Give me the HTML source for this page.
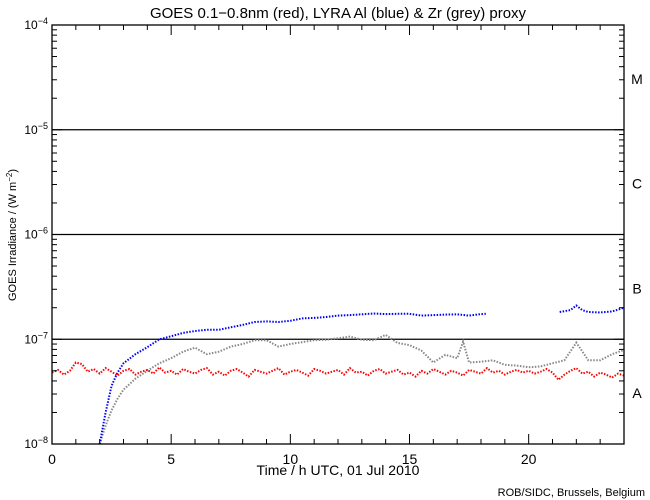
<!DOCTYPE html>
<html><head><meta charset="utf-8"><style>
body{margin:0;background:#fff;}
svg{display:block;font-family:"Liberation Sans",sans-serif;}
</style></head><body>
<svg id="chart" width="650" height="500" viewBox="0 0 650 500">
<rect width="650" height="500" fill="#fff"/>
<text x="338" y="18" font-size="15" text-anchor="middle">GOES 0.1−0.8nm (red), LYRA Al (blue) &amp; Zr (grey) proxy</text>
<text x="338" y="475" font-size="14" text-anchor="middle">Time / h UTC, 01 Jul 2010</text>
<text transform="translate(16,235) rotate(-90)" font-size="11" text-anchor="middle">GOES Irradiance / (W m<tspan font-size="8" dy="-4">−2</tspan><tspan dy="4">)</tspan></text>
<text x="645" y="496" font-size="11" text-anchor="end">ROB/SIDC, Brussels, Belgium</text>
<g id="grid"></g><g id="series"></g><g id="axes"></g>
</svg>
<script>
const xTicks=[0,5,10,15,20];
const yDecades=[-8,-7,-6,-5,-4];
const classLabels=["A","B","C","M"];
const blueTimes=[2,2.25,2.5,2.75,3,3.5,4,4.5,5,5.5,6,6.5,7,7.5,8,8.5,9,9.5,10,10.5,11,11.5,12,12.5,13,13.5,14,14.5,15,15.5,16,16.5,17,17.5,18,18.2,null,21.3,21.75,22,22.25,22.5,23,23.5,24];
const blueValues=[1.0,2.0,3.6,4.8,5.9,7.2,8.4,10,10.7,11.5,12,12.3,12.3,13,13.7,14.6,14.8,14.6,15,15.8,16,16.3,16.8,17,17.3,17.6,17.4,17.5,17.5,16.8,17,17.2,17.3,16.8,17.4,17.5,null,18.2,19,21,19,18.2,18,18.4,20];
const greyTimes=[2,2.25,2.5,2.75,3,3.5,4,4.5,5,5.5,6,6.5,7,7.5,8,8.5,9,9.5,10,10.5,11,11.5,12,12.5,13,13.5,14,14.5,15,15.5,16,16.5,17,17.25,17.5,18,18.5,19,19.5,20,20.5,21,21.5,22,22.5,23,23.5,24];
const greyValues=[1.0,1.5,2.1,2.7,3.3,4.2,5.0,5.9,6.6,7.6,8.3,7.2,7.6,8.5,9.0,9.8,9.8,8.5,9.0,9.4,9.8,9.9,10.2,10.6,9.9,9.8,11,9.2,8.8,7.8,6.0,7.1,6.6,9.5,6.0,6.1,6.3,5.7,5.6,5.4,5.5,5.9,6.3,9.3,6.3,6.3,7.2,7.9];
const redValues=[4.8,5.1,4.6,5.0,6.0,5.8,4.9,5.2,4.7,5.3,4.9,4.5,5.0,5.2,4.6,4.9,5.1,4.7,5.4,4.8,5.0,4.6,5.2,4.9,4.7,5.1,5.3,4.6,4.9,4.5,5.0,5.2,4.8,4.4,5.1,4.9,4.7,5.0,5.3,4.6,4.9,5.1,4.8,4.5,5.2,5.0,4.7,4.9,5.1,4.6,5.3,4.8,4.9,4.5,5.0,5.2,4.7,4.9,5.1,4.6,4.8,4.4,5.0,4.7,5.2,4.9,4.6,5.0,4.8,4.5,5.1,4.9,4.7,5.3,4.8,5.0,4.6,4.9,5.1,4.8,5.0,4.7,4.9,5.2,4.8,4.1,4.6,5.0,5.3,4.7,4.9,4.4,4.8,4.6,4.3,4.7,4.5];
const redStep=0.25;

const X0=52,X1=624,Y0=444,Y1=25;
const xs=t=>X0+t/24*(X1-X0);
const ys=v=>Y0-(Math.log10(v*1e-8)+8)/4*(Y0-Y1);
const yd=d=>Y0-(d+8)/4*(Y0-Y1);
const NS="http://www.w3.org/2000/svg";
function mk(tag,parent,attrs){const e=document.createElementNS(NS,tag);for(const k in attrs)e.setAttribute(k,attrs[k]);parent.appendChild(e);return e;}
const grid=document.getElementById('grid'),ser=document.getElementById('series'),ax=document.getElementById('axes');

[-7,-6,-5].forEach(d=>{
  const l=mk('line',grid,{x1:X0,x2:X1,y1:yd(d),y2:yd(d),stroke:'#000','stroke-width':1.3});
  
  
});

function dotted(ts,vs,color,name){
  let seg=[];const segs=[];
  ts.forEach((t,i)=>{if(t===null||vs[i]===null){if(seg.length)segs.push(seg);seg=[];}else seg.push([xs(t),ys(vs[i])]);});
  if(seg.length)segs.push(seg);
  segs.forEach(s=>{
    const p=mk('polyline',ser,{points:s.map(q=>q[0].toFixed(1)+','+q[1].toFixed(1)).join(' '),fill:'none',stroke:color,'stroke-width':2,'stroke-dasharray':'1.5 1.5'});
    
    
  });
}
dotted(greyTimes,greyValues,'#888','zr-grey-series');
dotted(blueTimes,blueValues,'#0000ff','al-blue-series');
const redTimes=redValues.map((v,i)=>i*redStep);
dotted(redTimes,redValues,'#ff0000','goes-red-series');

const fr=mk('rect',ax,{x:X0,y:Y1,width:X1-X0,height:Y0-Y1,fill:'none',stroke:'#000','stroke-width':1.3});



for(let h=0;h<=24;h++){
  const L=h%5===0?10:5;const x=xs(h);
  mk('line',ax,{x1:x,x2:x,y1:Y0,y2:Y0-L,stroke:'#000'});
  mk('line',ax,{x1:x,x2:x,y1:Y1,y2:Y1+L,stroke:'#000'});
}
xTicks.forEach(t=>{
  const tx=mk('text',ax,{x:xs(t),y:Y0+20,'font-size':14,'text-anchor':'middle'});
  tx.textContent=t;
  
  
});
yDecades.forEach((d,i)=>{
  const y=yd(d);
  mk('line',ax,{x1:X0,x2:X0+10,y1:y,y2:y,stroke:'#000'});
  mk('line',ax,{x1:X1,x2:X1-10,y1:y,y2:y,stroke:'#000'});
  if(i<yDecades.length-1){
    for(let m=2;m<=9;m++){const yy=Y0-(d+8+Math.log10(m))/4*(Y0-Y1);
      mk('line',ax,{x1:X0,x2:X0+5,y1:yy,y2:yy,stroke:'#000'});
      mk('line',ax,{x1:X1,x2:X1-5,y1:yy,y2:yy,stroke:'#000'});}
  }
  const tx=mk('text',ax,{x:X0-4,y:y+4,'font-size':12,'text-anchor':'end'});
  tx.innerHTML='10<tspan font-size="9" dy="-5">'+(d<0?'−':'')+Math.abs(d)+'</tspan>';
  
  
});
classLabels.forEach((c,i)=>{
  const tx=mk('text',ax,{x:637,y:yd(-8+i)-52+6,'font-size':14,'text-anchor':'middle'});
  tx.textContent=c;
  
  
});
</script>
</body></html>
